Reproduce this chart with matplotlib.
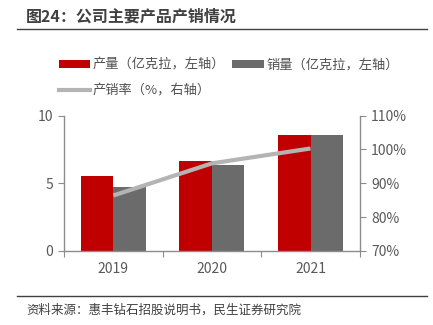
import matplotlib

matplotlib.use("Agg")
import matplotlib.pyplot as plt  # noqa: E402
from matplotlib.lines import Line2D  # noqa: E402
from matplotlib.patches import Patch  # noqa: E402
from matplotlib.ticker import FuncFormatter  # noqa: E402

plt.rcParams["font.family"] = ["Noto Sans CJK SC", "DejaVu Sans"]

YEARS = ["2019", "2020", "2021"]
OUTPUT = [5.52, 6.63, 8.55]      # 产量, 亿克拉
SALES = [4.73, 6.33, 8.60]       # 销量, 亿克拉
SELL_RATE = [86.4, 95.9, 100.3]  # 产销率, %

RED = "#C00000"
DARK_GRAY = "#6B6B6B"
LINE_GRAY = "#B4B4B4"
AXIS_GRAY = "#8C8C8C"
TEXT_GRAY = "#595959"

fig = plt.figure(figsize=(4.33, 3.25), dpi=100)
ax = fig.add_axes([0.148, 0.228, 0.683, 0.416])
ax2 = ax.twinx()

x = list(range(len(YEARS)))
w = 0.33
ax.bar([i - w / 2 for i in x], OUTPUT, width=w, color=RED, zorder=2)
ax.bar([i + w / 2 for i in x], SALES, width=w, color=DARK_GRAY, zorder=2)
ax2.plot(x, SELL_RATE, color=LINE_GRAY, linewidth=3, solid_capstyle="butt")

ax.set_xlim(-0.5, 2.5)
ax.set_ylim(0, 10)
ax.set_yticks([0, 5, 10])
ax2.set_ylim(70, 110)
ax2.set_yticks([70, 80, 90, 100, 110])
ax2.yaxis.set_major_formatter(FuncFormatter(lambda v, _: f"{v:.0f}%"))

# category labels centred, tick marks between categories
ax.set_xticks([-0.5, 0.5, 1.5, 2.5])
ax.set_xticklabels([])
ax.set_xticks(x, minor=True)
ax.set_xticklabels(YEARS, minor=True)
ax.tick_params(axis="x", which="minor", length=0, pad=8)
ax.tick_params(axis="x", which="major", direction="out", length=4, color=AXIS_GRAY)

for a in (ax, ax2):
    a.spines["top"].set_visible(False)
    for side in ("left", "right", "bottom"):
        a.spines[side].set_color(AXIS_GRAY)
        a.spines[side].set_linewidth(1.0)
    a.tick_params(axis="y", direction="out", length=4, color=AXIS_GRAY,
                  labelsize=10, labelcolor=TEXT_GRAY, pad=4)
ax.tick_params(axis="x", which="both", labelsize=10, labelcolor=TEXT_GRAY)
ax.spines["right"].set_visible(False)
ax2.spines["left"].set_visible(False)
ax2.spines["bottom"].set_visible(False)

handles = [
    Patch(facecolor=RED, label="产量（亿克拉，左轴）"),
    Line2D([0], [0], color=LINE_GRAY, linewidth=3, label="产销率（%，右轴）"),
    Patch(facecolor=DARK_GRAY, label="销量（亿克拉，左轴）"),
]
fig.legend(handles=handles, ncol=2, loc="upper left", bbox_to_anchor=(0.12, 0.84),
           frameon=False, fontsize=9.5, labelcolor="#505050", handlelength=2.4,
           handleheight=0.5, handletextpad=0.2, columnspacing=0.5, labelspacing=0.95,
           borderpad=0)

fig.text(0.06, 0.95, "图24：公司主要产品产销情况", fontsize=11.5, fontweight="bold",
         color="#404040", va="center")
fig.add_artist(Line2D([0.04, 0.985], [0.912, 0.912], color="#404040", linewidth=1))
fig.add_artist(Line2D([0.04, 0.985], [0.088, 0.088], color="#404040", linewidth=1))
fig.text(0.06, 0.045, "资料来源：惠丰钻石招股说明书，民生证券研究院", fontsize=9,
         color="#404040", va="center")

fig.savefig("out.png", dpi=100)
